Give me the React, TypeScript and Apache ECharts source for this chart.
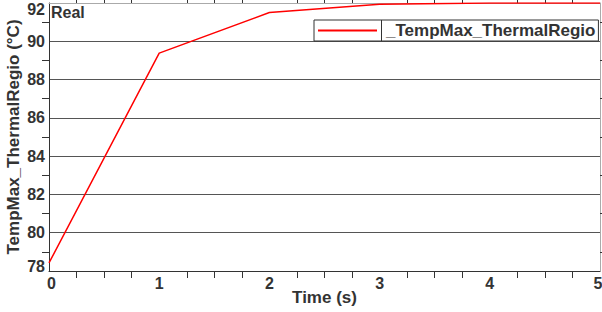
import React, { useEffect, useRef } from "react";
import * as echarts from "echarts";

const seriesName = "_TempMax_ThermalRegio";
const timeValues = [0, 1, 2, 3, 4, 5];
const tempValues = [78.42, 89.38, 91.5, 91.93, 92.0, 92.0];
const yAxisTitle = "TempMax_ThermalRegio (°C)";
const xAxisTitle = "Time (s)";
const cornerLabel = "Real";

const FONT = "'Liberation Sans', Arial, sans-serif";

export default function App() {
  const ref = useRef<HTMLDivElement>(null);
  useEffect(() => {
    if (!ref.current) return;
    const chart = echarts.init(ref.current, undefined, { renderer: "svg" });
    const data = timeValues.map((t, i) => [t, tempValues[i]]);
    const labelStyle = { color: "#333", fontSize: 16, fontWeight: "bold" as const, fontFamily: FONT };
    const bigStyle = { ...labelStyle, fontSize: 17 };
    chart.setOption({
      animation: false,
      textStyle: { fontFamily: FONT },
      grid: { left: 49, right: 2, top: 3, bottom: 41, containLabel: false, outerBoundsMode: "none" },
      xAxis: [
        {
          type: "value",
          min: 0,
          max: 5,
          interval: 1,
          axisLine: { show: true, onZero: false, lineStyle: { color: "#333", width: 1 } },
          axisTick: { show: false },
          minorTick: { show: true, splitNumber: 4, length: 7, lineStyle: { color: "#333" } },
          splitLine: { show: false },
          axisLabel: {
            ...labelStyle,
            margin: 4,
            formatter: (v: number) => (v === 0 ? `{first|${v}}` : v === 5 ? `{last|${v}}` : `${v}`),
            rich: {
              first: { ...labelStyle, padding: [0, 0, 0, 5] },
              last: { ...labelStyle, padding: [0, 4, 0, 0] },
            },
          },
          name: xAxisTitle,
          nameLocation: "middle",
          nameGap: 18,
          nameMoveOverlap: false,
          nameTextStyle: { ...bigStyle, verticalAlign: "top" },
        },
        {
          type: "value",
          position: "top",
          min: 0,
          max: 5,
          interval: 1,
          axisLine: { show: true, onZero: false, lineStyle: { color: "#aaa", width: 1 } },
          axisTick: { show: false },
          minorTick: { show: true, splitNumber: 4, length: 7, lineStyle: { color: "#333" } },
          splitLine: { show: false },
          axisLabel: { show: false },
        },
      ],
      yAxis: [
        {
          type: "value",
          min: 78,
          max: 92,
          interval: 2,
          axisLine: { show: true, onZero: false, lineStyle: { color: "#333", width: 1 } },
          axisTick: { show: false },
          minorTick: { show: true, splitNumber: 2, length: 7, lineStyle: { color: "#333" } },
          splitLine: { show: true, lineStyle: { color: "#555", width: 1 } },
          axisLabel: {
            ...labelStyle,
            margin: 4,
            formatter: (v: number) => (v === 92 ? `{top|${v}}` : v === 78 ? `{bot|${v}}` : `${v}`),
            rich: {
              top: { ...labelStyle, padding: [12, 0, 0, 0] },
              bot: { ...labelStyle, padding: [0, 0, 10, 0] },
            },
          },
          name: yAxisTitle,
          nameLocation: "middle",
          nameGap: 27,
          nameMoveOverlap: false,
          nameTextStyle: { ...bigStyle },
        },
        {
          type: "value",
          position: "right",
          min: 78,
          max: 92,
          interval: 2,
          axisLine: { show: true, onZero: false, lineStyle: { color: "#aaa", width: 1 } },
          axisTick: { show: false },
          minorTick: { show: true, splitNumber: 2, length: 7, lineStyle: { color: "#333" } },
          splitLine: { show: false },
          axisLabel: { show: false },
        },
      ],
      legend: {
        show: true,
        left: 314,
        top: 20,
        padding: [2, 3, 2, 4],
        itemWidth: 59,
        itemHeight: 2,
        itemGap: 0,
        icon: "rect",
        borderColor: "#333",
        borderWidth: 1,
        backgroundColor: "#fff",
        textStyle: { ...bigStyle, padding: [0, 0, 0, 4], lineHeight: 16 },
        data: [{ name: seriesName }],
      },
      graphic: [
        {
          type: "text",
          x: 51,
          y: 4,
          style: { text: cornerLabel, fill: "#333", font: `bold 16px ${FONT}`, textVerticalAlign: "top", textAlign: "left" },
          z: 10,
        },
        {
          type: "line",
          shape: { x1: 381.5, y1: 20, x2: 381.5, y2: 41 },
          style: { stroke: "#333", lineWidth: 1 },
          z: 100,
        },
      ],
      series: [
        {
          name: seriesName,
          type: "line",
          data,
          xAxisIndex: 0,
          yAxisIndex: 0,
          symbol: "none",
          lineStyle: { color: "#ff0000", width: 1.5 },
          itemStyle: { color: "#ff0000" },
        },
      ],
    });
    return () => chart.dispose();
  }, []);
  return <div ref={ref} style={{ width: 602, height: 312, position: "absolute", left: 0, top: 0 }} />;
}
